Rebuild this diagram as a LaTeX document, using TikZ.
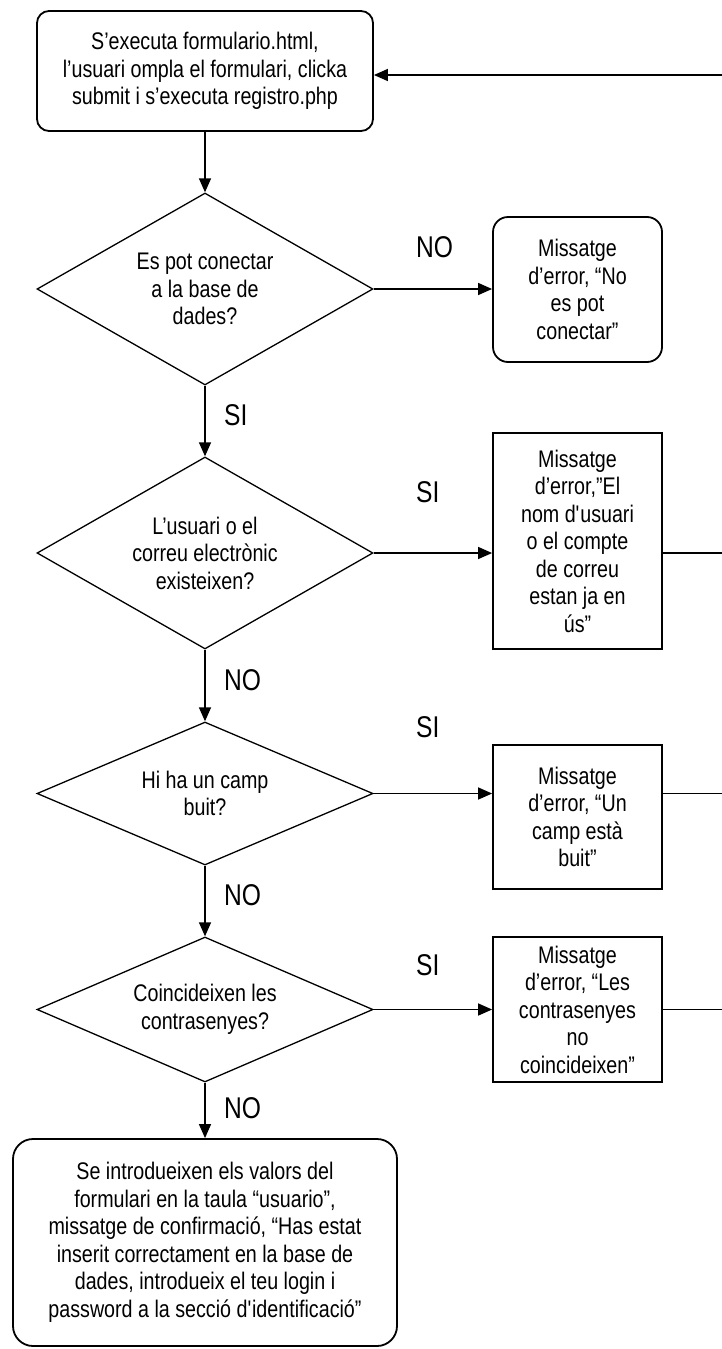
\documentclass[tikz,border=0pt]{standalone}
\usepackage{fontspec}
\setmainfont{Liberation Sans}[FakeStretch=0.82]
\usetikzlibrary{positioning, shapes.geometric, arrows.meta}

\begin{document}
\begin{tikzpicture}[
    x=1pt, y=-1pt,
    font=\fontsize{24}{27.5}\selectfont,
    box/.style={draw, line width=1.8pt, rounded corners=12pt, align=center, inner sep=0pt},
    msg/.style={box, rounded corners=0pt, minimum width=169pt},
    ask/.style={draw, diamond, shape aspect=2, line width=1.3pt, align=center, inner sep=0pt,
                minimum width=336pt},
    arrow/.style={-{Triangle[length=14pt, width=12pt]}, line width=1.4pt},
    link/.style={line width=1.4pt},
    answer/.style={font=\fontsize{30}{32}\selectfont, inner sep=0pt, anchor=west},
  ]
  \useasboundingbox (0,0) rectangle (722,1349);

  % ---------------- Main column ----------------
  \node[box, minimum width=336pt, minimum height=120pt] (start) at (205,71)
    {S’executa formulario.html,\\l’usuari ompla el formulari, clicka\\submit i s’executa registro.php};
  \node[ask, minimum height=192pt] (conn)   at (205,289)  {Es pot conectar\\a la base de\\dades?};
  \node[ask, minimum height=192pt] (exists) at (205,553)  {L’usuari o el\\correu electrònic\\existeixen?};
  \node[ask, minimum height=143pt] (empty)  at (205,793.5) {Hi ha un camp\\buit?};
  \node[ask, minimum height=145pt] (match)  at (205,1009.5) {Coincideixen les\\contrasenyes?};
  \node[box, minimum width=384pt, minimum height=207pt, rounded corners=20pt] (insert) at (205,1242.5)
    {Se introdueixen els valors del\\formulari en la taula “usuario”,\\missatge de confirmació, “Has estat\\inserit correctament en la base de\\dades, introdueix el teu login i\\password a la secció d\textquotesingle identificació”};

  % ---------------- Error messages ----------------
  \node[box, minimum width=169pt, minimum height=145pt, rounded corners=15pt] (errconn) at (577.5,289.5)
    {Missatge\\d’error, “No\\es pot\\conectar”};
  \node[msg, minimum height=216pt] (errexists) at (577.5,541)
    {Missatge\\d’error,”El\\nom d\textquotesingle usuari\\o el compte\\de correu\\estan ja en\\ús”};
  \node[msg, minimum height=144pt] (errempty) at (577.5,817)
    {Missatge\\d’error, “Un\\camp està\\buit”};
  \node[msg, minimum height=145pt] (errmatch) at (577.5,1009.5)
    {Missatge\\d’error, “Les\\contrasenyes\\no\\coincideixen”};

  \coordinate (rim) at (722,75);

  % ---------------- Connections ----------------
  \draw[arrow] (start) -- (conn);
  \draw[arrow] (conn) -- (exists);
  \draw[arrow] (exists) -- (empty);
  \draw[arrow] (empty) -- (match);
  \draw[arrow] (match) -- (insert);

  \foreach \q/\e in {conn/errconn, exists/errexists, empty/errempty, match/errmatch}
    \draw[arrow] (\q.east) -- (\q.east -| \e.west);
  \foreach \q/\e in {exists/errexists, empty/errempty, match/errmatch}
    \draw[link] (\q.east -| \e.east) -- (\q.east -| rim);
  \draw[arrow] (rim) -- (rim -| start.east);

  % ---------------- Answers ----------------
  \node[answer] (no1) at (416,247)  {NO};
  \node[answer] (si1) at (224,415)  {SI};
  \node[answer] (si2) at (416,492)  {SI};
  \node[answer] (no2) at (224,680)  {NO};
  \node[answer] (si3) at (416,727)  {SI};
  \node[answer] (no3) at (224,895)  {NO};
  \node[answer] (si4) at (416,965)  {SI};
  \node[answer] (no4) at (224,1108) {NO};
\end{tikzpicture}
\end{document}
